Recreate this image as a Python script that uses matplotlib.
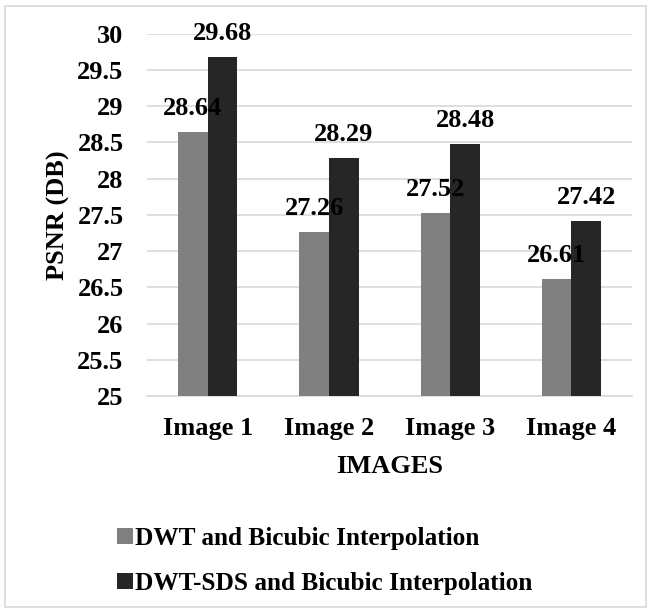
import matplotlib.pyplot as plt
import numpy as np

plt.rcParams['font.family'] = ['Liberation Serif', 'DejaVu Serif']
plt.rcParams['font.weight'] = 'bold'

images = ['Image 1', 'Image 2', 'Image 3', 'Image 4']
dwt = [28.64, 27.26, 27.52, 26.61]
dwt_sds = [29.68, 28.29, 28.48, 27.42]
yticks = [25, 25.5, 26, 26.5, 27, 27.5, 28, 28.5, 29, 29.5, 30]

fs = 19

fig = plt.figure(figsize=(6.51, 6.13), dpi=100)
ax = fig.add_axes([0.226, 0.354, 0.745, 0.591])

x = np.arange(len(images))
w = 0.245
b1 = ax.bar(x - w/2, dwt, w, color='#808080', label='DWT and Bicubic Interpolation', zorder=3)
b2 = ax.bar(x + w/2, dwt_sds, w, color='#262626', label='DWT-SDS and Bicubic Interpolation', zorder=3)

for rects, vals in [(b1, dwt), (b2, dwt_sds)]:
    for r, v in zip(rects, vals):
        ax.annotate('%.2f' % v, (r.get_x() + r.get_width()/2, v), xytext=(0, 17),
                    textcoords='offset points', ha='center', va='center',
                    fontsize=fs, fontweight='bold', zorder=4)

ax.set_ylim(25, 30)
ax.set_xlim(-0.5, 3.5)
ax.set_yticks(yticks)
ax.set_yticklabels(['%g' % t for t in yticks])
ax.set_xticks(x)
ax.set_xticklabels(images)
ax.yaxis.grid(True, color='#d9d9d9', linewidth=1.2, zorder=0)
for s in ['top', 'right', 'left']:
    ax.spines[s].set_visible(False)
ax.spines['bottom'].set_color('#d9d9d9')
ax.spines['bottom'].set_linewidth(1.2)
ax.tick_params(axis='both', length=0, labelsize=fs)
ax.tick_params(axis='y', pad=17)
ax.tick_params(axis='x', pad=15)
ax.set_ylabel('PSNR (DB)', fontsize=fs, fontweight='bold', labelpad=5)
ax.set_xlabel('IMAGES', fontsize=fs, fontweight='bold', labelpad=11)

fig.legend(handles=[b1, b2], loc='upper left', bbox_to_anchor=(0.164, 0.157),
           frameon=False, handlelength=0.62, handleheight=0.62,
           handletextpad=0.1, labelspacing=0.88, borderaxespad=0,
           prop={'weight': 'bold', 'size': 18.2})

fig.patches.append(plt.Rectangle((0.008, 0.009), 0.984, 0.982, transform=fig.transFigure,
                                 fill=False, edgecolor='#d9d9d9', linewidth=1.2))

plt.savefig('out.png', dpi=100)
